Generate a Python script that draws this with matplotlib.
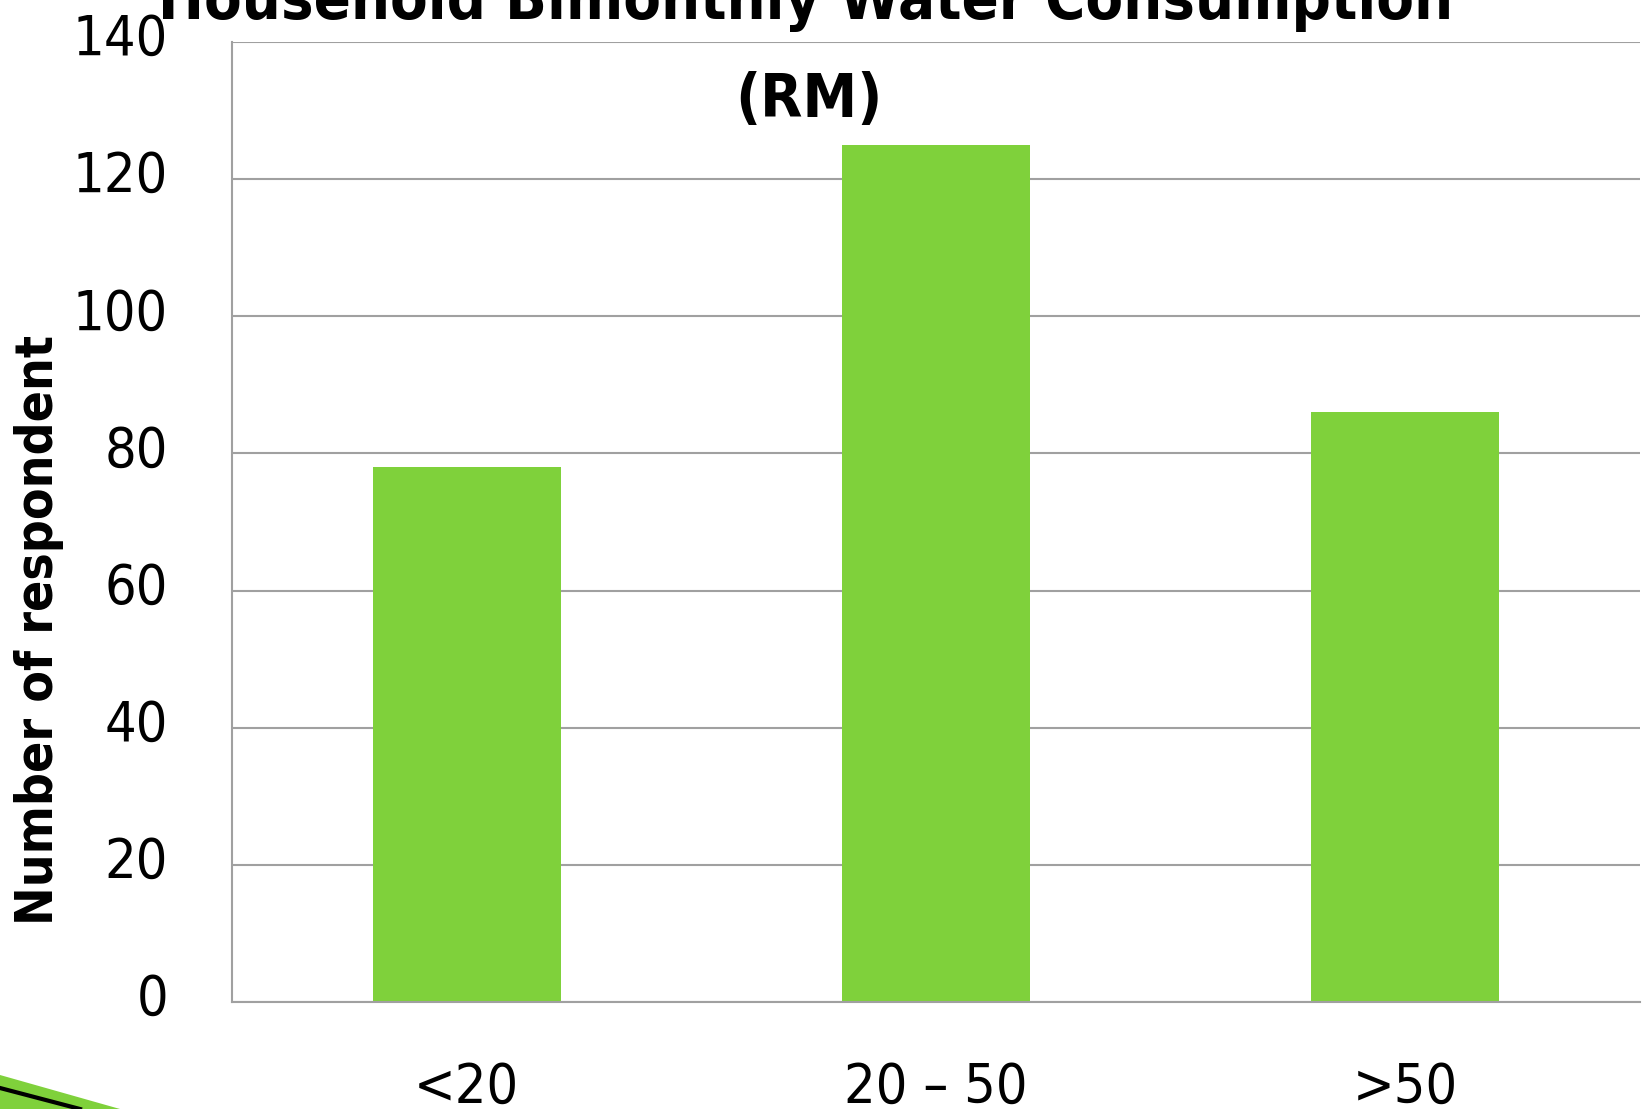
import matplotlib.pyplot as plt
import matplotlib.transforms as mtransforms
from matplotlib.patches import Polygon

plt.rcParams['font.family'] = ['DejaVu Sans']
plt.rcParams['font.stretch'] = 'condensed'

categories = ['<20', '20 – 50', '>50']
respondents = [78, 125, 86]
yticks = [0, 20, 40, 60, 80, 100, 120, 140]

W, H = 1647, 1109
fig = plt.figure(figsize=(W / 100, H / 100), dpi=100)
ax = fig.add_axes([232 / W, 1 - 1002 / H, (1640 - 232) / W, (1002 - 42) / H])

ax.bar(range(len(categories)), respondents, width=0.4, color='#7FD13B', zorder=2)
ax.set_xlim(-0.5, 2.5)
ax.set_ylim(0, 140)
ax.set_yticks(yticks)
ax.set_xticks(range(len(categories)))
ax.set_xticklabels(categories)
ax.grid(axis='y', color='#A0A0A0', linewidth=1.5, zorder=0)
ax.tick_params(axis='y', length=0, pad=46, labelsize=40)
ax.tick_params(axis='x', length=0, pad=42, labelsize=40)
for s in ['top', 'right']:
    ax.spines[s].set_visible(False)
ax.spines['left'].set_color('#A0A0A0')
ax.spines['left'].set_linewidth(1.5)
ax.spines['bottom'].set_color('#A0A0A0')
ax.spines['bottom'].set_linewidth(1.5)

# y labels sit a little above their gridlines in the original
shift = mtransforms.ScaledTranslation(0, 0.08, fig.dpi_scale_trans)
for lbl in ax.get_yticklabels():
    lbl.set_transform(lbl.get_transform() + shift)

fig.text(806 / W, 1 - 19 / H, 'Household Bimonthly Water Consumption',
         ha='center', va='baseline', fontsize=44, fontweight='bold')
fig.text(809 / W, 1 - 117 / H, '(RM)', ha='center', va='baseline',
         fontsize=44, fontweight='bold')
fig.text(39 / W, 1 - 630 / H, 'Number of respondent', rotation=90,
         ha='center', va='center', fontsize=37, fontweight='bold')

# slide decoration, bottom-left corner
fig.patches.append(Polygon([[0, 1 - 1075 / H], [120 / W, 0], [0, 0]],
                           closed=True, transform=fig.transFigure,
                           facecolor='#7FD13B', edgecolor='none'))
fig.add_artist(plt.Line2D([0, 80 / W], [1 - 1088 / H, 1 - 1109 / H],
                          transform=fig.transFigure, color='black', linewidth=3))

fig.savefig('out.png', dpi=100)
